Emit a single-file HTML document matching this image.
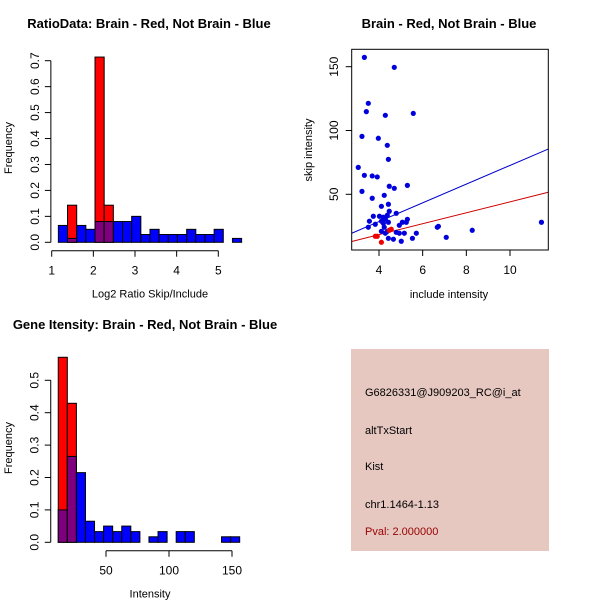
<!DOCTYPE html>
<html><head><meta charset="utf-8"><style>
body{margin:0;background:#fff}
svg{display:block;font-family:"Liberation Sans",sans-serif}
</style></head><body>
<svg id="c" width="600" height="600" viewBox="0 0 600 600"></svg>
<script>
// Panel 1: ratio histogram
const ratioBinStart = 1.16, ratioBinWidth = 0.22;
const ratioBlue = [0.065,0.015,0.065,0.05,0.08,0.08,0.08,0.08,0.10,0.03,0.05,0.03,0.03,0.03,0.05,0.03,0.03,0.05,0,0.015];
const ratioRed  = [0,0.143,0,0,0.714,0.143,0,0,0,0,0,0,0,0,0,0,0,0,0,0];
const ratioXTicks = [1,2,3,4,5];
const ratioYTicks = [0,0.1,0.2,0.3,0.4,0.5,0.6,0.7];
// Panel 2: scatter
const scatterBlueX = [3.33,4.70,3.51,3.42,4.29,5.57,3.22,3.97,4.38,4.43,3.05,3.33,3.69,3.92,5.30,4.47,4.70,3.22,3.69,4.24,4.11,4.43,4.47,4.79,4.38,3.74,4.02,4.20,4.29,5.30,3.56,4.11,4.43,4.20,5.07,5.25,3.83,4.93,3.51,4.24,6.67,6.72,11.44,8.27,4.11,4.38,4.79,4.93,5.16,5.71,4.29,4.43,4.66,5.02,5.53,7.08];
const scatterBlueY = [157.3,149.5,121.3,114.8,111.9,113.4,95.4,93.9,88.4,77.4,71.1,64.9,64.4,63.6,57.0,56.3,54.7,52.3,46.9,49.2,40.6,42.2,36.7,35.1,33.6,32.8,32.8,32.0,30.4,30.4,28.9,28.9,28.1,27.3,28.1,28.1,26.5,25.7,24.2,24.2,24.2,24.9,28.1,21.8,21.0,21.0,20.2,19.5,19.5,19.5,19.5,15.5,14.8,13.2,15.5,16.3];
const scatterRedX = [3.83,3.92,4.11,4.47,4.56];
const scatterRedY = [17.1,17.1,12.4,21.8,22.6];
const fitBlue = [-0.67, 7.33]; // intercept, slope
const fitRed = [1.2, 4.29];
const scatterXTicks = [4,6,8,10];
const scatterYTicks = [50,100,150];
// Panel 3: intensity histogram
const intBinStart = 12.1, intBinWidth = 7.2;
const intBlue = [0.10,0.265,0.215,0.065,0.033,0.05,0.033,0.05,0.033,0,0.017,0.033,0,0.033,0.033,0,0,0,0.017,0.017];
const intRed  = [0.571,0.429,0,0,0,0,0,0,0,0,0,0,0,0,0,0,0,0,0,0];
const intXTicks = [50,100,150];
const intYTicks = [0,0.1,0.2,0.3,0.4,0.5];

const svg = document.getElementById('c');
const NS = 'http://www.w3.org/2000/svg';
function mk(tag, attrs, parent){const e=document.createElementNS(NS,tag);for(const k in attrs)e.setAttribute(k,attrs[k]);(parent||svg).appendChild(e);return e;}
function txt(s, attrs){const e=mk('text',attrs);e.textContent=s;return e;}
function lin(d0,d1,r0,r1){return v=>r0+(v-d0)*(r1-r0)/(d1-d0);}

function hist(cfg){
  const {x,y,start,w,blue,red,xt,yt,xAxisY,xl,yl,title,titleX,name}=cfg;
  const g=mk('g',{});
  
  
  blue.forEach((b,i)=>{
    const r=red[i], x0=x(start+i*w), x1=x(start+(i+1)*w);
    const draw=(v,fill,n)=>{ if(v<=0) return; const e=mk('rect',{x:x0,y:y(v),width:x1-x0,height:y(0)-y(v),fill:fill,stroke:'#000','stroke-width':1},g);
      
       };
    if(r>b){draw(r,'#ff0000','bar-red');draw(b,'#7f007f','bar-overlap');}
    else {draw(b,'#0000ff','bar-blue');draw(r,'#7f007f','bar-overlap');}
  });
  mk('line',{x1:x(xt[0]),x2:x(xt[xt.length-1]),y1:xAxisY,y2:xAxisY,stroke:'#000'},g);
  xt.forEach(t=>{mk('line',{x1:x(t),x2:x(t),y1:xAxisY,y2:xAxisY+6,stroke:'#000'},g);
    const e=txt(String(t),{x:x(t),y:xAxisY+24,'font-size':12,'text-anchor':'middle'});
    
    });
  const ax=x(start)-7.5;
  mk('line',{x1:ax,x2:ax,y1:y(yt[0]),y2:y(yt[yt.length-1]),stroke:'#000'},g);
  yt.forEach(t=>{mk('line',{x1:ax,x2:ax-6,y1:y(t),y2:y(t),stroke:'#000'},g);
    const e=txt(t.toFixed(1),{x:0,y:0,'font-size':12,'text-anchor':'middle',transform:`translate(${ax-12},${y(t)}) rotate(-90)`});
    
    });
  let e=txt(xl,{x:cfg.xlX,y:xAxisY+47,'font-size':11,'text-anchor':'middle'});
   
  e=txt(yl,{transform:`translate(12,${cfg.ylY}) rotate(-90)`,'font-size':11,'text-anchor':'middle'});
   
  e=txt(title,{x:titleX,y:cfg.titleY,'font-size':13,'font-weight':'bold','text-anchor':'middle'});
   
}

hist({name:'ratio-histogram',x:lin(1,5,51.7,218.3),y:lin(0,0.7,242.3,60.7),start:ratioBinStart,w:ratioBinWidth,blue:ratioBlue,red:ratioRed,
  xt:ratioXTicks,yt:ratioYTicks,xAxisY:250.7,xl:'Log2 Ratio Skip/Include',xlX:150,yl:'Frequency',ylY:148,
  title:'RatioData: Brain - Red, Not Brain - Blue',titleX:149,titleY:28});
hist({name:'intensity-histogram',x:lin(50,150,106,232),y:lin(0,0.5,542.3,380.3),start:intBinStart,w:intBinWidth,blue:intBlue,red:intRed,
  xt:intXTicks,yt:intYTicks,xAxisY:550.7,xl:'Intensity',xlX:150,yl:'Frequency',ylY:448,
  title:'Gene Itensity: Brain - Red, Not Brain - Blue',titleX:145,titleY:329});

// scatter
(function(){
  const x=lin(4,10,379,510), y=lin(50,150,194.3,66.7);
  const g=mk('g',{});
  
  
  const X0=2.75,X1=11.75;
  [[fitBlue,'#0000cc','fit-line-blue'],[fitRed,'#cc0000','fit-line-red']].forEach(([f,c,n])=>{
    const l=mk('line',{x1:x(X0),y1:y(f[0]+f[1]*X0),x2:x(X1),y2:y(f[0]+f[1]*X1),stroke:c,'stroke-width':1},g);
     });
  scatterBlueX.forEach((v,i)=>{const c=mk('circle',{cx:x(v),cy:y(scatterBlueY[i]),r:2.6,fill:'#0000dd'},g);
     });
  scatterRedX.forEach((v,i)=>{const c=mk('circle',{cx:x(v),cy:y(scatterRedY[i]),r:2.6,fill:'#ee0000'},g);
     });
  const b=mk('rect',{x:351.7,y:49.3,width:196.6,height:200.7,fill:'none',stroke:'#000'},g);
   
  scatterXTicks.forEach(t=>{mk('line',{x1:x(t),x2:x(t),y1:250,y2:256,stroke:'#000'},g);
    const e=txt(String(t),{x:x(t),y:274,'font-size':12,'text-anchor':'middle'});
     });
  scatterYTicks.forEach(t=>{mk('line',{x1:351.7,x2:345.7,y1:y(t),y2:y(t),stroke:'#000'},g);
    const e=txt(String(t),{'font-size':12,'text-anchor':'middle',transform:`translate(338,${y(t)}) rotate(-90)`});
     });
  let e=txt('include intensity',{x:449,y:298,'font-size':11,'text-anchor':'middle'});
   
  e=txt('skip intensity',{'font-size':11,'text-anchor':'middle',transform:'translate(312,150) rotate(-90)'});
   
  e=txt('Brain - Red, Not Brain - Blue',{x:449,y:28,'font-size':13,'font-weight':'bold','text-anchor':'middle'});
   
})();

// info box
(function(){
  const g=mk('g',{});
  
  
  mk('rect',{x:351,y:349,width:198,height:202,fill:'#e6c8c1'},g);
  const lines=[['G6826331@J909203_RC@i_at',396,'#000','probe-id'],['altTxStart',434,'#000','event-type'],['Kist',470,'#000','gene-name'],['chr1.1464-1.13',508,'#000','location'],['Pval: 2.000000',535,'#990000','p-value']];
  lines.forEach(([s,yy,c,n])=>{const e=txt(s,{x:365,y:yy,'font-size':11,fill:c});
     });
})();
</script>
</body></html>
